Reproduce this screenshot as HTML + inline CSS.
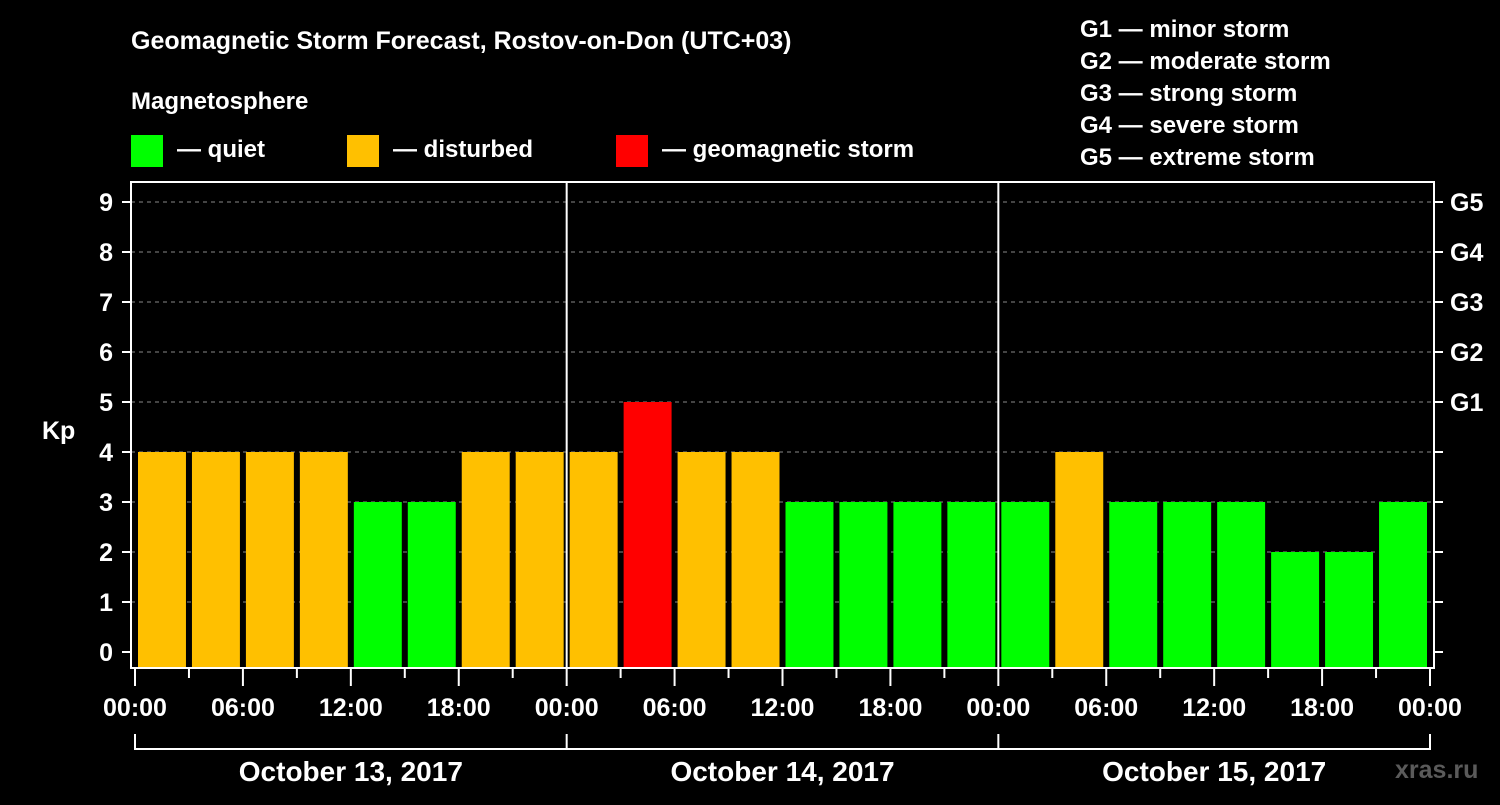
<!DOCTYPE html>
<html><head><meta charset="utf-8"><style>
body{margin:0;background:#000;width:1500px;height:800px;overflow:hidden}
svg text{font-family:"Liberation Sans",sans-serif;font-weight:bold;fill:#fff}
</style></head><body>
<svg id="c" width="1500" height="800">
<text x="131" y="49" font-size="25">Geomagnetic Storm Forecast, Rostov-on-Don (UTC+03)</text>
<text x="131" y="109" font-size="24">Magnetosphere</text>
<rect x="131" y="135" width="32" height="32" fill="#00ff00"/>
<text x="177" y="157" font-size="24">— quiet</text>
<rect x="347" y="135" width="32" height="32" fill="#ffc000"/>
<text x="393" y="157" font-size="24">— disturbed</text>
<rect x="616" y="135" width="32" height="32" fill="#ff0000"/>
<text x="662" y="157" font-size="24">— geomagnetic storm</text>
<g font-size="24">
<text x="1080" y="37">G1 — minor storm</text>
<text x="1080" y="69">G2 — moderate storm</text>
<text x="1080" y="101">G3 — strong storm</text>
<text x="1080" y="133">G4 — severe storm</text>
<text x="1080" y="165">G5 — extreme storm</text>
</g>
<text x="42" y="439" font-size="25">Kp</text>
<text x="1395" y="778" font-size="25" fill="#555" style="fill:#5a5a5a">xras.ru</text>
<g id="g"></g>
</svg>
<script>
const kpValues=[4,4,4,4,3,3,4,4,4,5,4,4,3,3,3,3,3,4,3,3,3,2,2,3];
const yTicks=[0,1,2,3,4,5,6,7,8,9];
const gLabels=["G1","G2","G3","G4","G5"];
const xTickLabels=["00:00","06:00","12:00","18:00","00:00","06:00","12:00","18:00","00:00","06:00","12:00","18:00","00:00"];
const dayLabels=["October 13, 2017","October 14, 2017","October 15, 2017"];
const NS="http://www.w3.org/2000/svg",g=document.getElementById('g');
const L=131,R=1434,T=182,B=668,X0=135,X1=1430;
const y=v=>652-50*v;
const x=i=>X0+(X1-X0)*i/24;
function mk(t,a){const e=document.createElementNS(NS,t);for(const k in a)e.setAttribute(k,a[k]);g.appendChild(e);return e;}
yTicks.forEach(v=>{
 if(v>0){const e=mk('line',{x1:L,x2:R,y1:y(v),y2:y(v),stroke:'#888','stroke-dasharray':'4,4'});
 
 }
 mk('line',{x1:122,x2:L,y1:y(v),y2:y(v),stroke:'#fff','stroke-width':2});
 mk('line',{x1:R,x2:1443,y1:y(v),y2:y(v),stroke:'#fff','stroke-width':2});
 const t=mk('text',{x:113,y:y(v)+9,'font-size':25,'text-anchor':'end'});t.textContent=v;
 
 
});
gLabels.forEach((s,i)=>{const t=mk('text',{x:1450,y:y(5+i)+9,'font-size':25});t.textContent=s;
 
 });
kpValues.forEach((v,i)=>{
 const c=v>=5?'#ff0000':v>=4?'#ffc000':'#00ff00';
 const r=mk('rect',{x:x(i)+3,y:y(v),width:x(i+1)-x(i)-6,height:B-y(v),fill:c});
 
 
});
[8,16].forEach(i=>mk('line',{x1:x(i),x2:x(i),y1:T,y2:B,stroke:'#fff','stroke-width':2}));
mk('rect',{x:L,y:T,width:R-L,height:B-T,fill:'none',stroke:'#fff','stroke-width':2});
for(let i=0;i<=24;i++){mk('line',{x1:x(i),x2:x(i),y1:B,y2:i%2?678:686,stroke:'#fff','stroke-width':2});}
xTickLabels.forEach((s,i)=>{const t=mk('text',{x:x(i*2),y:716,'font-size':25,'text-anchor':'middle'});t.textContent=s;
 
 });
mk('line',{x1:X0,x2:X1,y1:749,y2:749,stroke:'#fff','stroke-width':2});
[0,8,16,24].forEach(i=>mk('line',{x1:x(i),x2:x(i),y1:734,y2:750,stroke:'#fff','stroke-width':2}));
dayLabels.forEach((s,i)=>{const t=mk('text',{x:(x(i*8)+x(i*8+8))/2,y:781,'font-size':28,'text-anchor':'middle'});t.textContent=s;
 
 });
</script>
</body></html>
